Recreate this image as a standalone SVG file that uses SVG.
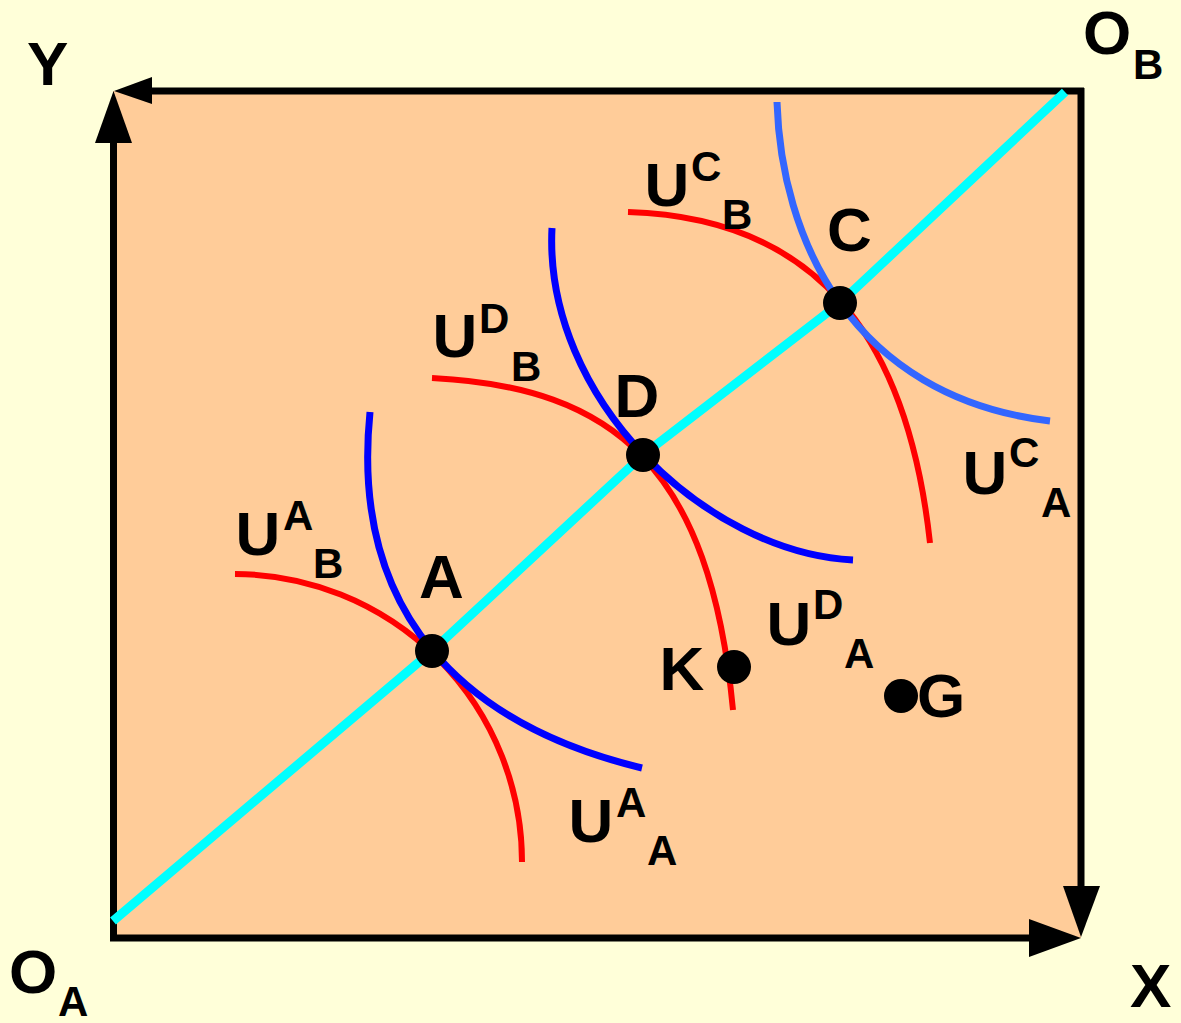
<svg xmlns="http://www.w3.org/2000/svg" width="1181" height="1023" viewBox="0 0 1181 1023">
<style>
.lbl{font-family:"Liberation Sans",Arial,sans-serif;font-weight:bold;fill:#000}
.big{font-size:62px}
.sm{font-size:42px}
.axis{stroke:#000;stroke-width:7;fill:none}
.head{fill:#000}
.red{stroke:#FF0000;stroke-width:6;fill:none}
.blue{stroke:#0000FF;stroke-width:7;fill:none}
.lblue{stroke:#3366FF;stroke-width:7;fill:none}
.cyan{stroke:#00FFFF;stroke-width:9;fill:none;stroke-linejoin:round}
.dot{fill:#000}
</style>
<rect width="1181" height="1023" fill="#FFFFD9"/>
<g id="box">
<rect x="113" y="91" width="968" height="847" fill="#FFCC99"/>
<line class="axis" x1="113.5" y1="941" x2="113.5" y2="140"/>
<line class="axis" x1="150" y1="91" x2="1084" y2="91"/>
<line class="axis" x1="1081" y1="88" x2="1081" y2="888"/>
<line class="axis" x1="110" y1="938" x2="1031" y2="938"/>
<polygon class="head" points="113.5,91 95,143 132,143"/>
<polygon class="head" points="114,91 152,77 152,104"/>
<polygon class="head" points="1081,937 1063,886 1100,886"/>
<polygon class="head" points="1081,938 1029,919 1029,957"/>
</g>
<g id="axis-labels" class="lbl">
<text class="big" x="27" y="85">Y</text>
<text class="big" x="1083" y="54">O</text><text class="sm" x="1133" y="79">B</text>
<text class="big" x="9" y="993">O</text><text class="sm" x="58" y="1016">A</text>
<text class="big" x="1130" y="1007">X</text>
</g>
<g id="connectors">
<polyline id="contract-curve" class="cyan" points="113,921 432,651 643,455 840,303 1065,92"/>
<path id="UAB" class="red" d="M235,574 A288,288 0 0 1 522,862"/>
<path id="UDB" class="red" d="M432,378 C615,387 710,468 733,710"/>
<path id="UCB" class="red" d="M628,212 C814,217.6 907,333 930,543"/>
<path id="UAA" class="blue" d="M370,412 C349.7,614.5 465,725.5 642,768"/>
<path id="UDA" class="blue" d="M552,228 C543.5,398 705.5,552.6 853,560"/>
<path id="UCA" class="lblue" d="M777,102 C781,236.7 850,397 1050,421"/>
</g>
<g id="node-A"><circle class="dot" cx="432" cy="651" r="17"/><text class="lbl big" x="419" y="598">A</text></g>
<g id="node-D"><circle class="dot" cx="643" cy="455" r="17"/><text class="lbl big" x="614.5" y="417">D</text></g>
<g id="node-C"><circle class="dot" cx="840" cy="303" r="17"/><text class="lbl big" x="827" y="251">C</text></g>
<g id="node-K"><circle class="dot" cx="734" cy="667" r="17"/><text class="lbl big" x="659.5" y="690">K</text></g>
<g id="node-G"><circle class="dot" cx="901" cy="696" r="17"/><text class="lbl big" x="917" y="717">G</text></g>
<g id="curve-labels" class="lbl">
<g id="label-UAB"><text class="big" x="235.5" y="555">U</text><text class="sm" x="283" y="530">A</text><text class="sm" x="313" y="578">B</text></g>
<g id="label-UDB"><text class="big" x="432.5" y="357">U</text><text class="sm" x="479" y="333">D</text><text class="sm" x="511" y="381">B</text></g>
<g id="label-UCB"><text class="big" x="644.5" y="206">U</text><text class="sm" x="691" y="181">C</text><text class="sm" x="722" y="229">B</text></g>
<g id="label-UCA"><text class="big" x="962.5" y="494">U</text><text class="sm" x="1009" y="467">C</text><text class="sm" x="1041" y="517">A</text></g>
<g id="label-UDA"><text class="big" x="766.5" y="645">U</text><text class="sm" x="813" y="619">D</text><text class="sm" x="844" y="668">A</text></g>
<g id="label-UAA"><text class="big" x="568.5" y="842">U</text><text class="sm" x="616" y="817">A</text><text class="sm" x="647" y="865">A</text></g>
</g>
</svg>
